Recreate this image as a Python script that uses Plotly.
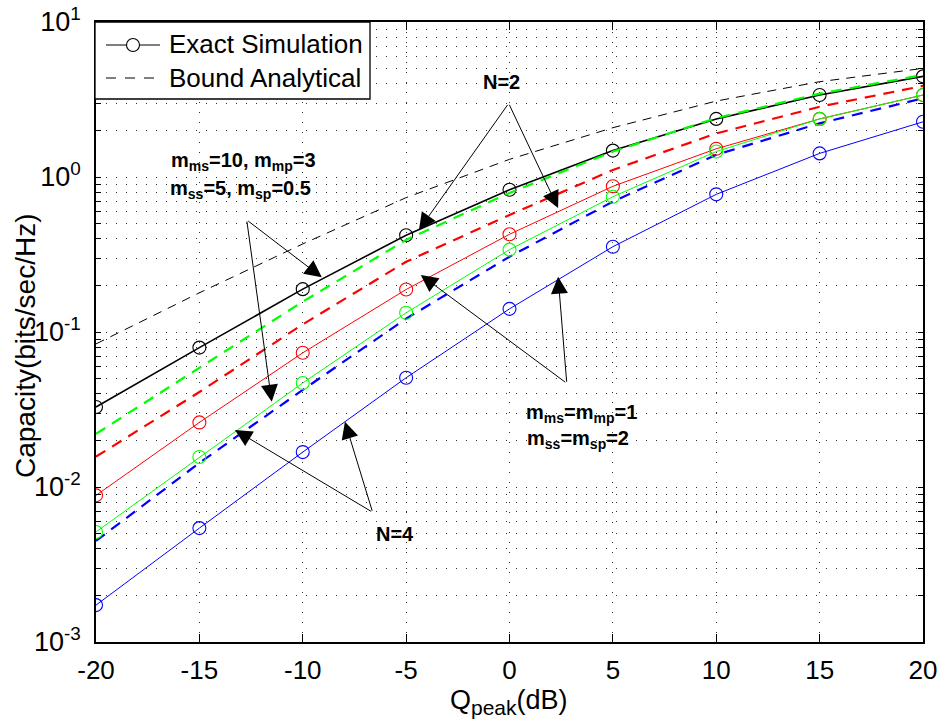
import numpy as np
import plotly.graph_objects as go

# ---------------- data ----------------
q_db = [-20, -15, -10, -5, 0, 5, 10, 15, 20]

# Exact simulation (solid + circles)
black_exact = [0.0328, 0.0793, 0.189, 0.421, 0.828, 1.48, 2.37, 3.38, 4.46]
red_exact   = [0.00883, 0.0261, 0.0734, 0.188, 0.427, 0.871, 1.52, 2.37, 3.38]
green_exact = [0.00513, 0.0156, 0.0469, 0.133, 0.340, 0.746, 1.46, 2.37, 3.38]
blue_exact  = [0.00173, 0.00543, 0.0168, 0.0507, 0.141, 0.355, 0.773, 1.42, 2.27]

# Bound analytical (dashed)
black_bound = [0.0838, 0.179, 0.370, 0.736, 1.30, 2.08, 3.09, 4.12, 5.02]
green_bound = [0.0220, 0.0586, 0.157, 0.393, 0.789, 1.46, 2.40, 3.45, 4.55]
red_bound   = [0.0157, 0.0410, 0.112, 0.284, 0.569, 1.11, 1.91, 2.84, 3.87]
blue_bound  = [0.00449, 0.0143, 0.0423, 0.122, 0.306, 0.694, 1.39, 2.22, 3.22]

x_ticks = [-20, -15, -10, -5, 0, 5, 10, 15, 20]
y_major = [1e-3, 1e-2, 1e-1, 1e0, 1e1]
y_major_text = ["10<sup>-3</sup>", "10<sup>-2</sup>", "10<sup>-1</sup>", "10<sup>0</sup>", "10<sup>1</sup>"]

legend_labels = ["Exact Simulation", "Bound Analytical"]

# ---------------- figure ----------------
FONT = "Liberation Sans, Arial, sans-serif"
fig = go.Figure()

def exact(y, color, width):
    fig.add_trace(go.Scatter(
        x=q_db, y=y, mode="lines+markers",
        line=dict(color=color, width=width),
        marker=dict(symbol="circle-open", size=13, color=color, line=dict(width=1.1, color=color)),
        showlegend=False, hoverinfo="x+y"))

def bound(y, color, width, dash):
    fig.add_trace(go.Scatter(
        x=q_db, y=y, mode="lines",
        line=dict(color=color, width=width, dash=dash),
        showlegend=False, hoverinfo="x+y"))

exact(black_exact, "black", 1.6)
bound(black_bound, "black", 1.0, "9px,7px")
bound(green_bound, "#00ff00", 2.2, "11px,8px")
bound(red_bound, "red", 2.2, "11px,8px")
bound(blue_bound, "blue", 2.2, "11px,8px")
exact(red_exact, "red", 1.0)
exact(green_exact, "#00ff00", 1.0)
exact(blue_exact, "blue", 1.0)

# y ticks: majors labelled, minors blank (for minor grid lines)
y_tickvals, y_ticktext = [], []
for k in range(-3, 2):
    for m in range(1, 10):
        v = m * 10.0 ** k
        if v > 10.0 + 1e-9:
            break
        y_tickvals.append(v)
        y_ticktext.append(y_major_text[y_major.index(v)] if m == 1 else "")

grid_dash = "1px,9px"
fig.update_xaxes(
    range=[-20, 20], tickvals=x_ticks, ticktext=[str(t) for t in x_ticks],
    showline=True, linecolor="black", linewidth=1.5, mirror="ticks",
    ticks="inside", ticklen=8, tickcolor="black", tickwidth=1,
    showgrid=True, gridcolor="#333", griddash=grid_dash, gridwidth=1,
    zeroline=False, tickfont=dict(family=FONT, size=26, color="black"),
    automargin=False, ticklabelstandoff=4,
)
fig.update_yaxes(
    type="log", range=[-3, 1], tickvals=y_tickvals, ticktext=y_ticktext,
    showline=True, linecolor="black", linewidth=1.5, mirror="ticks",
    ticks="inside", ticklen=5, tickcolor="black", tickwidth=1,
    showgrid=True, gridcolor="#333", griddash=grid_dash, gridwidth=1,
    zeroline=False, tickfont=dict(family=FONT, size=27, color="black"),
    automargin=False, ticklabelstandoff=8,
)

# plot area in pixels: x 96..923, y 22..642
PL, PR, PT, PB = 96, 923, 22, 642
def px(xp):
    return (xp - PL) / (PR - PL)
def py(yp):
    return (PB - yp) / (PB - PT)

# axis titles
fig.add_annotation(x=px(25), y=py(346), xref="paper", yref="paper",
                   xanchor="center", yanchor="middle",
                   text="Capacity(bits/sec/Hz)", textangle=-90, showarrow=False,
                   font=dict(family=FONT, size=28, color="black"))
fig.add_annotation(x=px(509), y=py(702), xref="paper", yref="paper",
                   xanchor="center", yanchor="middle",
                   text="Q<sub><span style='font-size:21px'>peak</span></sub>(dB)", showarrow=False,
                   font=dict(family=FONT, size=27, color="black"))

# custom legend (MATLAB style)
fig.add_shape(type="rect", xref="paper", yref="paper", x0=px(95), x1=px(370), y0=py(99), y1=py(22),
              line=dict(color="black", width=1.3), fillcolor="white", layer="above")
fig.add_shape(type="line", xref="paper", yref="paper", x0=px(106), x1=px(160), y0=py(45), y1=py(45),
              line=dict(color="black", width=1.2), layer="above")
fig.add_shape(type="circle", xref="paper", yref="paper", x0=px(126.5), x1=px(139.5), y0=py(51.5), y1=py(38.5),
              line=dict(color="black", width=1.1), fillcolor="white", layer="above")
fig.add_shape(type="line", xref="paper", yref="paper", x0=px(106), x1=px(160), y0=py(78), y1=py(78),
              line=dict(color="black", width=1.0, dash="10px,9px"), layer="above")
for lab, yy in zip(legend_labels, [44, 78]):
    fig.add_annotation(x=px(167), y=py(yy), xref="paper", yref="paper", text=lab,
                       xanchor="left", yanchor="middle", showarrow=False,
                       font=dict(family=FONT, size=26, color="black"))

# ---------------- annotations ----------------
def s(t):
    return "<sub><span style='font-size:14px'>" + t + "</span></sub>"

ann_text = [
    # (text, x, log10 y)
    ("N=2", -0.41, 0.613),
    ("m" + s("ms") + "=10, m" + s("mp") + "=3", -12.89, 0.100),
    ("m" + s("ss") + "=5, m" + s("sp") + "=0.5", -12.99, -0.080),
    ("m" + s("ms") + "=m" + s("mp") + "=1", 3.46, -1.526),
    ("m" + s("ss") + "=m" + s("sp") + "=2", 3.31, -1.694),
    ("N=4", -5.54, -2.303),
]
for t, x, y in ann_text:
    fig.add_annotation(x=x, y=y, xref="x", yref="y", text="<b>" + t + "</b>",
                       showarrow=False, font=dict(family=FONT, size=20, color="black"))

arrows = [
    # head (x, log y), tail (x, log y)
    ((-4.38, -0.342), (-0.04, 0.475)),
    ((2.35, -0.200), (-0.04, 0.475)),
    ((-9.08, -0.647), (-12.71, -0.277)),
    ((-11.50, -1.450), (-12.71, -0.277)),
    ((-4.29, -0.632), (2.77, -1.331)),
    ((2.35, -0.643), (2.77, -1.331)),
    ((-13.28, -1.632), (-6.62, -2.163)),
    ((-7.96, -1.579), (-6.62, -2.163)),
]
for (hx, hy), (tx, ty) in arrows:
    fig.add_annotation(x=hx, y=hy, ax=tx, ay=ty, xref="x", yref="y", axref="x", ayref="y",
                       text="", showarrow=True, arrowhead=2, arrowsize=3.4, arrowwidth=1,
                       arrowcolor="black", standoff=0, startstandoff=0)

fig.update_layout(
    width=945, height=728,
    margin=dict(l=PL, r=945 - PR, t=PT, b=728 - PB),
    paper_bgcolor="white", plot_bgcolor="white",
    font=dict(family=FONT, color="black"),
    showlegend=False,
)

fig.write_html("out.html")
